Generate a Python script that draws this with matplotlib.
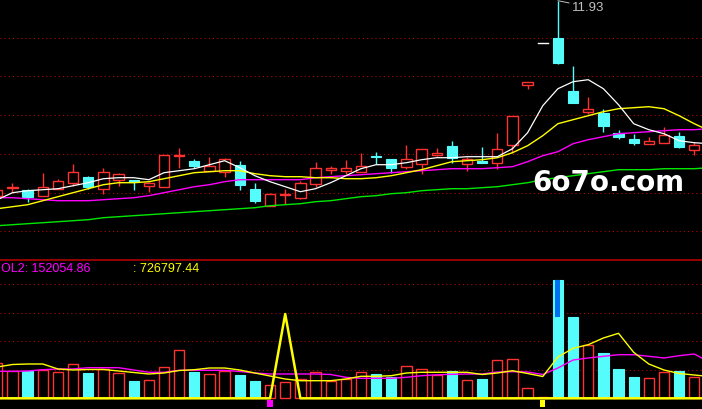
import numpy as np
import matplotlib
matplotlib.use('Agg')
import matplotlib.pyplot as plt
from matplotlib.patches import Rectangle

plt.rcParams['font.family'] = ['Liberation Sans', 'DejaVu Sans']

# 日K数据 (index -1 is the bar cut at the left edge)
days = list(range(-1, 46))
opens = [9.98, 10.06, 10.04, 9.98, 10.05, 10.11, 10.17, 10.05, 10.14, 10.14,
         10.08, 10.07, 10.38, 10.33, 10.23, 10.22, 10.29, 10.05, 9.88, 9.99,
         9.96, 10.10, 10.24, 10.23, 10.22, 10.38, 10.35, 10.27, 10.30, 10.39,
         10.48, 10.30, 10.33, 10.31, 10.49, 11.09, 11.51, 11.56, 11.03, 10.82,
         10.81, 10.61, 10.55, 10.50, 10.51, 10.58, 10.44]
highs = [10.06, 10.11, 10.05, 10.21, 10.15, 10.30, 10.18, 10.26, 10.21, 10.14,
         10.12, 10.39, 10.46, 10.35, 10.37, 10.36, 10.33, 10.11, 10.01, 10.05,
         10.13, 10.32, 10.28, 10.34, 10.41, 10.42, 10.35, 10.49, 10.45, 10.46,
         10.53, 10.37, 10.47, 10.61, 10.78, 11.12, 11.51, 11.93, 11.28, 10.97,
         10.85, 10.64, 10.60, 10.57, 10.67, 10.62, 10.52]
lows = [9.97, 10.02, 9.92, 9.98, 10.05, 10.08, 10.05, 10.00, 10.08, 10.04,
        10.02, 10.07, 10.26, 10.26, 10.23, 10.17, 10.04, 9.91, 9.88, 9.90,
        9.95, 10.07, 10.20, 10.20, 10.22, 10.30, 10.21, 10.25, 10.20, 10.38,
        10.31, 10.23, 10.31, 10.25, 10.41, 11.05, 11.51, 11.30, 10.91, 10.80,
        10.62, 10.55, 10.49, 10.50, 10.51, 10.46, 10.39]
closes = [10.04, 10.07, 9.97, 10.07, 10.13, 10.22, 10.07, 10.22, 10.20, 10.12,
          10.11, 10.39, 10.39, 10.28, 10.28, 10.35, 10.09, 9.93, 10.00, 10.00,
          10.11, 10.26, 10.26, 10.26, 10.28, 10.37, 10.26, 10.35, 10.45, 10.41,
          10.36, 10.35, 10.31, 10.45, 10.78, 11.12, 11.51, 11.31, 10.91, 10.85,
          10.68, 10.57, 10.51, 10.53, 10.59, 10.47, 10.49]
vol = [35.3, 27, 27, 28.3, 26, 34, 25.3, 29.3, 25, 17.3,
       18, 31, 48, 26.3, 24, 27.3, 23.3, 17.3, 13, 16,
       19, 26, 17, 19.8, 26, 24, 21.6, 32, 29, 23.3,
       27, 18, 19.3, 38, 39, 10, 1.3, 118.3, 81.3, 53.3,
       45.3, 29.3, 21.3, 20, 26.3, 27.3, 21.3]

# 均线 (one more point off the right edge)
ma_days = list(range(-1, 47))
ma5 = [9.94, 10.01, 10.03, 10.04, 10.05, 10.08, 10.11, 10.15, 10.16, 10.16,
       10.14, 10.21, 10.23, 10.25, 10.29, 10.33, 10.26, 10.18, 10.12, 10.07,
       10.02, 10.05, 10.11, 10.18, 10.25, 10.29, 10.29, 10.31, 10.34, 10.36,
       10.36, 10.37, 10.37, 10.37, 10.45, 10.61, 10.88, 11.05, 11.12, 11.14,
       11.05, 10.89, 10.70, 10.64, 10.60, 10.53, 10.51, 10.50]
ma10 = [9.85, 9.87, 9.89, 9.93, 9.97, 10.01, 10.05, 10.09, 10.11, 10.11,
        10.12, 10.15, 10.18, 10.21, 10.22, 10.23, 10.23, 10.20, 10.18, 10.17,
        10.17, 10.16, 10.16, 10.15, 10.15, 10.16, 10.18, 10.21, 10.24, 10.28,
        10.32, 10.33, 10.34, 10.36, 10.41, 10.48, 10.58, 10.70, 10.74, 10.78,
        10.82, 10.85, 10.86, 10.87, 10.85, 10.78, 10.70, 10.63]
ma20 = [9.96, 9.96, 9.95, 9.94, 9.93, 9.93, 9.93, 9.94, 9.95, 9.96,
        9.98, 10.01, 10.04, 10.07, 10.09, 10.12, 10.14, 10.14, 10.14, 10.14,
        10.14, 10.16, 10.17, 10.18, 10.19, 10.20, 10.21, 10.22, 10.23, 10.24,
        10.25, 10.25, 10.25, 10.26, 10.27, 10.32, 10.38, 10.42, 10.50, 10.54,
        10.57, 10.60, 10.61, 10.62, 10.63, 10.64, 10.64, 10.65]
ma60 = [9.68, 9.69, 9.70, 9.71, 9.72, 9.73, 9.74, 9.76, 9.77, 9.78,
        9.79, 9.80, 9.81, 9.82, 9.83, 9.84, 9.85, 9.86, 9.88, 9.89,
        9.90, 9.92, 9.93, 9.95, 9.97, 9.98, 10.00, 10.01, 10.03, 10.04,
        10.05, 10.05, 10.06, 10.07, 10.09, 10.11, 10.14, 10.16, 10.18, 10.20,
        10.22, 10.24, 10.24, 10.24, 10.25, 10.25, 10.25, 10.26]
vma5 = [31.3, 33.8, 34.3, 34.3, 29.3, 28.3, 28.8, 28.8, 27.3, 25.8,
        24.3, 25.3, 27.8, 28.6, 30.3, 30.3, 28.3, 25.3, 22.3, 19.3,
        17.6, 17.6, 17.6, 19.3, 22, 22, 22.6, 25.3, 26, 26,
        26, 26, 23.8, 25.3, 27.6, 24.8, 21.8, 41.3, 50, 53.6,
        60.3, 65, 46, 34.3, 28.3, 24.8, 23.3, 21.8]
vma10 = [27, 27, 27.3, 28.6, 29.3, 29.3, 30.6, 30.6, 30.6, 28.3,
         26, 26, 28, 28, 28, 28, 26.8, 25.3, 24.3, 24.3,
         24.3, 24.3, 23.8, 21, 20, 20, 20, 21, 22.6, 23.5,
         24, 24.3, 24.3, 26.3, 26.6, 26.3, 23.8, 30.3, 38.3, 40.3,
         42, 43.6, 43.6, 42, 40.3, 42.6, 44.3, 36.3]
sig_line = [0, 0, 0, 0, 0, 0, 0, 0, 0, 0,
            0, 0, 0, 0, 0, 0, 0, 0, 0, 84.3,
            0, 0, 0, 0, 0, 0, 0, 0, 0, 0,
            0, 0, 0, 0, 0, 0, 0, 0, 0, 0,
            0, 0, 0, 0, 0, 0, 0, 0]
buy_days = [17]
sell_days = [35]
big_day = [36]
big_from = [81.6]
label_vol2 = 'OL2: 152054.86'
label_vol1 = ': 726797.44'

RED = '#ff3232'
CYAN = '#54fcfc'
GRID = '#c00000'
W = 0.68

fig = plt.figure(figsize=(7.02, 4.10), dpi=100, facecolor='black')
ax1 = fig.add_axes([0, 149/410, 1, 261/410])
ax2 = fig.add_axes([0, 0, 1, 149/410])
for ax in (ax1, ax2):
    ax.set_facecolor('black')
    ax.set_xlim(-0.825, 45.51)
    ax.axis('off')
ax1.set_ylim(9.337, 11.947)
ax2.set_ylim(-10.7, 138.3)

for k in range(1, 7):
    ax1.axhline(11.947 - 0.387*k, color=GRID, lw=0.75, ls=(0, (1, 3)), zorder=0)
for k in range(1, 5):
    ax2.axhline(28.5*k, color=GRID, lw=0.75, ls=(0, (1, 3)), zorder=0)
fig.add_artist(plt.Line2D([0, 1], [149/410, 149/410], color='#b00000', lw=1.2))

# candles
for d, o, h, l, c in zip(days, opens, highs, lows, closes):
    if c > o:
        col = RED
    elif c < o:
        col = CYAN
    else:
        col = 'white'
    if h == l:
        ax1.plot([d - W/2, d + W/2], [o, o], color=col, lw=1.0, zorder=3)
        continue
    ax1.vlines(d, l, h, color=col, lw=1.0, zorder=2)
    lo, hi = min(o, c), max(o, c)
    if col == RED:
        ax1.add_patch(Rectangle((d - W/2, lo), W, max(hi - lo, 0.004),
                                facecolor='black', edgecolor=RED, lw=1.0, zorder=3))
    else:
        ax1.add_patch(Rectangle((d - W/2, lo), W, max(hi - lo, 0.006),
                                facecolor=col, edgecolor=col, lw=0.8, zorder=3))

ax1.plot(ma_days, ma60, color='#00e800', lw=1.0, zorder=4)
ax1.plot(ma_days, ma20, color='#ff00ff', lw=1.0, zorder=4)
ax1.plot(ma_days, ma10, color='#ffff00', lw=1.0, zorder=4)
ax1.plot(ma_days, ma5, color='white', lw=0.9, zorder=4)

top = int(np.argmax(highs))
ax1.annotate('%.2f' % highs[top], xy=(days[top], highs[top]), xytext=(14, -6),
             textcoords='offset pixels', color='#c0c0c0', fontsize=9.5,
             ha='left', va='center',
             arrowprops=dict(arrowstyle='-', color='#c0c0c0', lw=0.7,
                             shrinkA=0, shrinkB=0))

fig.text(608/702, 1 - 183/410, '6o7o.com', color='white', fontsize=20,
         fontweight='bold', family='DejaVu Sans', ha='center', va='center')

# volume
for d, o, c, v in zip(days, opens, closes, vol):
    if c >= o:
        ax2.add_patch(Rectangle((d - W/2, 0), W, v, facecolor='black',
                                edgecolor=RED, lw=1.0, zorder=2))
    else:
        ax2.add_patch(Rectangle((d - W/2, 0), W, v, facecolor=CYAN,
                                edgecolor=CYAN, lw=0.8, zorder=2))
for d, f in zip(big_day, big_from):
    ax2.add_patch(Rectangle((d - 0.17, f), 0.34, vol[days.index(d)] - f,
                            facecolor='#0070f0', edgecolor='none', zorder=3))

ax2.plot(ma_days, vma10, color='#ff00ff', lw=1.0, zorder=4)
ax2.plot(ma_days, vma5, color='#ffff00', lw=1.0, zorder=4)
ax2.plot(ma_days, sig_line, color='#ffff00', lw=1.8, zorder=5)
for d in buy_days:
    ax2.add_patch(Rectangle((d - 0.17, -8.4), 0.34, 7, facecolor='#ff00ff',
                            edgecolor='none', zorder=5))
for d in sell_days:
    ax2.add_patch(Rectangle((d - 0.17, -8.7), 0.34, 7.3, facecolor='#ffff00',
                            edgecolor='none', zorder=5))

fig.text(1/702, 1 - 269.5/410, label_vol2, color='#ff00ff', fontsize=9,
         ha='left', va='center')
fig.text(133/702, 1 - 269.5/410, label_vol1, color='#ffff00', fontsize=9,
         ha='left', va='center')

fig.savefig('out.png', dpi=100, facecolor='black')
